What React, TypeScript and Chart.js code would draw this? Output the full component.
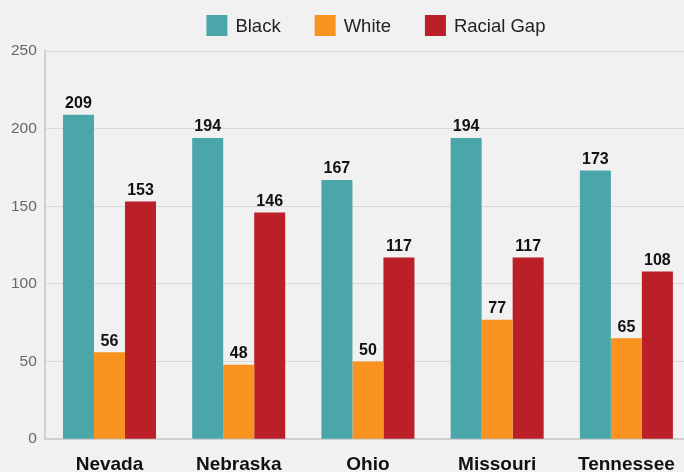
import React, { useEffect, useRef } from "react";
import { Chart, registerables } from "chart.js";

Chart.register(...registerables);

const categories = ["Nevada", "Nebraska", "Ohio", "Missouri", "Tennessee"];
const blackValues = [209, 194, 167, 194, 173];
const whiteValues = [56, 48, 50, 77, 65];
const gapValues = [153, 146, 117, 117, 108];
const seriesNames = ["Black", "White", "Racial Gap"];
const seriesColors = ["#4ba6a9", "#f7931e", "#bb1f28"];
const yTickValues = [0, 50, 100, 150, 200, 250];

const FONT = "'Liberation Sans', Arial, Helvetica, sans-serif";
const W = 691;
const H = 490;

const valueLabels = {
  id: "valueLabels",
  afterDatasetsDraw(chart: any) {
    const ctx = chart.ctx;
    ctx.save();
    ctx.font = `bold 16px ${FONT}`;
    ctx.fillStyle = "#111";
    ctx.textAlign = "center";
    ctx.textBaseline = "bottom";
    chart.data.datasets.forEach((ds: any, di: number) => {
      const meta = chart.getDatasetMeta(di);
      meta.data.forEach((el: any, i: number) => {
        ctx.fillText(String(ds.data[i]), el.x, el.y - 3);
      });
    });
    ctx.restore();
  },
};

const customLegend = {
  id: "customLegend",
  afterDraw(chart: any) {
    const ctx = chart.ctx;
    const box = 21;
    const gapText = 8;
    const gapItem = 34;
    const fontSize = 18.5;
    ctx.save();
    ctx.font = `${fontSize}px ${FONT}`;
    const widths = chart.data.datasets.map((ds: any) => ctx.measureText(ds.label).width);
    const total =
      widths.reduce((a: number, b: number) => a + b, 0) +
      chart.data.datasets.length * (box + gapText) +
      gapItem * (chart.data.datasets.length - 1);
    const center = (chart.chartArea.left + chart.chartArea.right) / 2 + 8;
    let x = center - total / 2;
    const yMid = 25.5;
    chart.data.datasets.forEach((ds: any, i: number) => {
      ctx.fillStyle = ds.backgroundColor;
      ctx.fillRect(x, yMid - box / 2, box, box);
      ctx.fillStyle = "#222";
      ctx.textAlign = "left";
      ctx.textBaseline = "middle";
      ctx.fillText(ds.label, x + box + gapText, yMid + 1);
      x += box + gapText + widths[i] + gapItem;
    });
    ctx.restore();
  },
};

export default function App() {
  const ref = useRef<HTMLCanvasElement | null>(null);

  useEffect(() => {
    document.body.style.margin = "0";
    document.body.style.overflow = "hidden";
    document.body.style.background = "#f1f1f1";
    const canvas = ref.current;
    if (!canvas) return;
    const seriesValues = [blackValues, whiteValues, gapValues];
    const chart = new Chart(canvas, {
      type: "bar",
      data: {
        labels: categories,
        datasets: seriesNames.map((name, i) => ({
          label: name,
          data: seriesValues[i],
          backgroundColor: seriesColors[i],
          borderWidth: 0,
          categoryPercentage: 0.72,
          barPercentage: 1,
        })),
      },
      options: {
        animation: false,
        responsive: false,
        devicePixelRatio: 1,
        layout: { padding: { top: 51, left: 3, right: 0, bottom: 0 } },
        plugins: {
          legend: { display: false },
          tooltip: { enabled: false },
        },
        scales: {
          x: {
            grid: { display: false, drawTicks: false },
            border: { display: true, color: "#cfcfcf", width: 2 },
            ticks: {
              color: "#111",
              padding: 14,
              font: { family: FONT, size: 19, weight: "bold" },
            },
          },
          y: {
            min: 0,
            max: 250,
            afterBuildTicks: (axis: any) => {
              axis.ticks = yTickValues.map((v) => ({ value: v }));
            },
            grid: { color: "#d9d9d9", drawTicks: false, lineWidth: 1 },
            border: { display: true, color: "#cfcfcf", width: 2 },
            ticks: {
              color: "#666",
              padding: 8,
              font: { family: FONT, size: 15.5 },
            },
          },
        },
      },
      plugins: [valueLabels, customLegend],
    });
    return () => chart.destroy();
  }, []);

  return (
    <div
      style={{
        position: "fixed",
        left: 0,
        top: 0,
        width: W,
        height: H,
        background: "#f1f1f1",
      }}
    >
      <canvas ref={ref} width={W} height={H} style={{ width: W, height: H, display: "block" }} />
    </div>
  );
}
